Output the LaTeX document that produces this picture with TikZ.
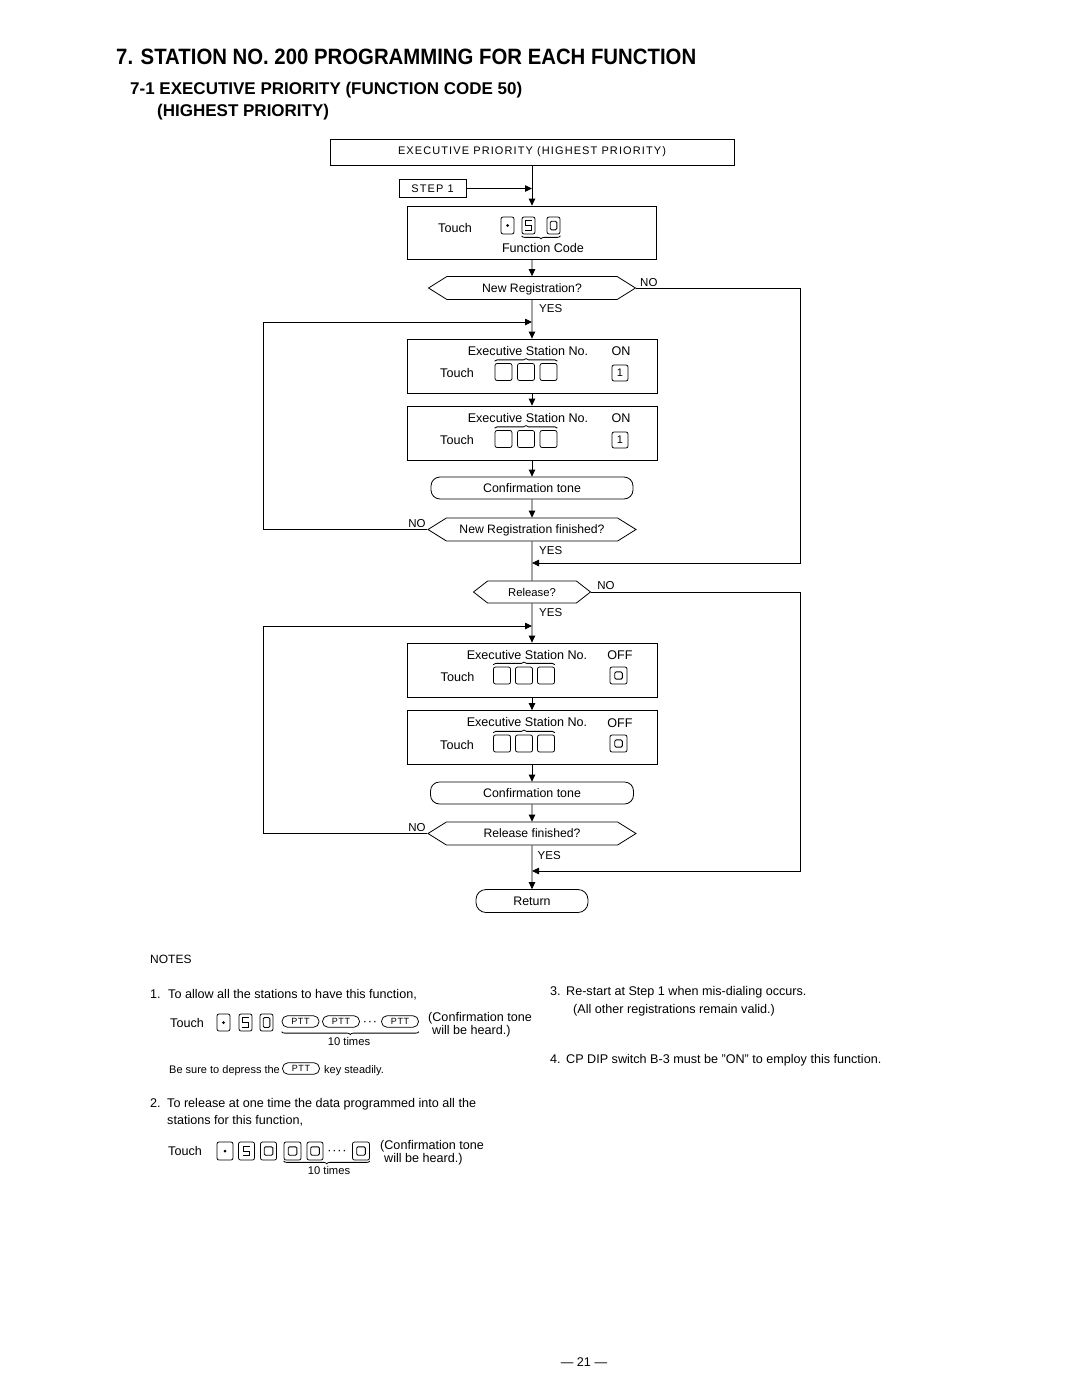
\documentclass[tikz,border=0pt]{standalone}
\usepackage{fontspec}
\usepackage{graphicx}
\setmainfont{Liberation Sans}
\usetikzlibrary{arrows.meta,shapes.symbols,decorations.pathreplacing}
\newcommand{\myfs}[1]{\fontsize{#1}{#1}\selectfont}
\begin{document}
\begin{tikzpicture}[x=1pt,y=-1pt,
  ln/.style={line width=0.8pt},
  arr/.style={ln,-{Triangle[length=7pt,width=6.5pt]}},
  flowbox/.style={draw,ln,rectangle,inner sep=0pt,minimum width=250pt,minimum height=54pt},
  term/.style={draw,ln,rounded corners=9pt,inner sep=0pt,minimum height=22pt,font=\myfs{12.4},text height=9pt,text depth=0pt},
  dec/.style={draw,ln,shape=signal,signal to=east and west,signal pointer angle=64,inner sep=0pt,minimum height=23pt,font=\myfs{12.2},text height=8.7pt,text depth=0pt},
  t/.style={inner sep=0pt,font=\myfs{12.6},text height=9pt,text depth=0pt},
  tl/.style={t,anchor=west},
  st/.style={inner sep=0pt,font=\myfs{11.2},text height=8pt,text depth=0pt},
  lab/.style={inner sep=0pt,font=\myfs{11.5},text height=8.3pt,text depth=0pt},
  key/.style={draw,line width=0.75pt,rounded corners=2pt,inner sep=0pt,minimum width=13pt,minimum height=17pt},
  skey/.style={key,minimum width=17pt,minimum height=17pt},
  dotk/.style={path picture={\fill (path picture bounding box.center) circle (1.5pt);}},
  fivek/.style={path picture={\draw[line width=0.9pt,sharp corners]
      ([shift={(3.2pt,4.8pt)}]path picture bounding box.center) -- ++(-6.4pt,0pt) -- ++(0pt,-4.8pt)
      -- ++(6.4pt,0pt) -- ++(0pt,-4.8pt) -- ++(-6.4pt,0pt);}},
  zk/.style 2 args={path picture={\draw[line width=0.9pt,rounded corners=1.3pt]
      ([shift={(-#1,-#2)}]path picture bounding box.center) rectangle ([shift={(#1,#2)}]path picture bounding box.center);}},
  onkey/.style={key,minimum width=16pt,minimum height=16pt,font=\myfs{11}},
  offkey/.style={key,minimum width=17pt,minimum height=17pt,zk={3.8pt}{3.6pt}},
  ptt/.style={draw,line width=0.75pt,rounded corners=5.5pt,minimum width=37pt,minimum height=11.5pt,inner sep=0pt,font=\myfs{9}\addfontfeature{LetterSpace=8}},
  br/.style={ln,decorate,decoration={brace,amplitude=2.5pt}},
  brm/.style={ln,decorate,decoration={brace,mirror,amplitude=3pt}}
]
\fill[white] (0,0) rectangle (1080,1397);
\useasboundingbox (0,0) rectangle (1080,1397);

% ---------- titles
\node[inner sep=0pt,anchor=west] (ttl) at (116,57) {\resizebox{580pt}{15.5pt}{\bfseries 7. STATION NO. 200 PROGRAMMING FOR EACH FUNCTION}};
\node[inner sep=0pt,anchor=base west] (sub1) at (130,95) {\myfs{17}\bfseries 7-1 EXECUTIVE PRIORITY (FUNCTION CODE 50)};
\node[inner sep=0pt,anchor=base west] (sub2) at (157,116) {\myfs{17}\bfseries (HIGHEST PRIORITY)};

% ---------- flow nodes
\node[draw,ln,minimum width=404pt,minimum height=26pt,inner sep=0pt,font=\myfs{11}\addfontfeature{LetterSpace=10}] (top) at (532,152) {EXECUTIVE PRIORITY (HIGHEST PRIORITY)};
\node[draw,ln,minimum width=67pt,minimum height=18pt,inner sep=0pt,font=\myfs{11}\addfontfeature{LetterSpace=10}] (step) at (432.5,188.5) {STEP 1};

\node[draw,ln,minimum width=249pt,minimum height=53pt,inner sep=0pt] (fc) at (532,232.5) {};
\node[t] (fct) at (455,228) {Touch};
\node[key,dotk] (fk1) at (507.5,225.5) {};
\node[key,fivek] (fk2) at (528.5,225.5) {};
\node[key,zk={3.3pt}{4.3pt}] (fk3) at (553.5,225.5) {};
\draw[brm] ([yshift=-1.5pt]fk2.south west) -- ([yshift=-1.5pt]fk3.south east);
\node[t] (fcl) at (543,248) {Function Code};

\node[dec,minimum width=207pt] (d1) at (532,288) {New Registration?};

% box 1
\node[flowbox] (b1) at (532,366) {};
\node[t] (b1e) at (528,350.5) {Executive Station No.};
\node[t] (b1s) at (621,351) {ON};
\node[t] (b1t) at (457,373) {Touch};
\node[skey] (b1k1) at (503.5,372) {};
\node[skey] (b1k2) at (526,372) {};
\node[skey] (b1k3) at (548.5,372) {};
\draw[br] ([yshift=2pt]b1k1.north west) -- ([yshift=2pt]b1k3.north east);
\node[onkey] (b1k) at (620,373) {1};

% box 2
\node[flowbox] (b2) at (532,433) {};
\node[t] (b2e) at (528,417.5) {Executive Station No.};
\node[t] (b2s) at (621,418) {ON};
\node[t] (b2t) at (457,440) {Touch};
\node[skey] (b2k1) at (503.5,439) {};
\node[skey] (b2k2) at (526,439) {};
\node[skey] (b2k3) at (548.5,439) {};
\draw[br] ([yshift=2pt]b2k1.north west) -- ([yshift=2pt]b2k3.north east);
\node[onkey] (b2k) at (620,440) {1};

\node[term,minimum width=202pt] (c1) at (532,488) {Confirmation tone};
\node[dec,minimum width=208pt] (d2) at (532,529.5) {New Registration finished?};
\node[dec,minimum width=117pt,minimum height=22pt,signal pointer angle=76,font=\myfs{11.3}] (d3) at (532,592) {Release?};

% box 3
\node[flowbox] (b3) at (532,670) {};
\node[t] (b3e) at (527,654.5) {Executive Station No.};
\node[t] (b3s) at (620,655) {OFF};
\node[t] (b3t) at (457.5,677) {Touch};
\node[skey] (b3k1) at (502,675.5) {};
\node[skey] (b3k2) at (524,675.5) {};
\node[skey] (b3k3) at (546,675.5) {};
\draw[br] ([yshift=2pt]b3k1.north west) -- ([yshift=2pt]b3k3.north east);
\node[offkey] (b3k) at (618.5,675.5) {};

% box 4
\node[flowbox] (b4) at (532,737.5) {};
\node[t] (b4e) at (527,722) {Executive Station No.};
\node[t] (b4s) at (620,722.5) {OFF};
\node[t] (b4t) at (457,744.5) {Touch};
\node[skey] (b4k1) at (502,743.5) {};
\node[skey] (b4k2) at (524,743.5) {};
\node[skey] (b4k3) at (546,743.5) {};
\draw[br] ([yshift=2pt]b4k1.north west) -- ([yshift=2pt]b4k3.north east);
\node[offkey] (b4k) at (618.5,743.5) {};

\node[term,minimum width=203pt] (c2) at (532,793) {Confirmation tone};
\node[dec,minimum width=208pt] (d4) at (532,833.5) {Release finished?};
\node[term,minimum width=112pt,minimum height=23pt,rounded corners=10pt] (ret) at (532,901) {Return};

% labels
\node[lab,anchor=west] (y1) at (539,308) {YES};
\node[lab,anchor=west] (no1) at (640,282) {NO};
\node[lab] (no2) at (417,523) {NO};
\node[lab,anchor=west] (y2) at (539,550) {YES};
\node[lab] (no3) at (606,585) {NO};
\node[lab,anchor=west] (y3) at (539,612.5) {YES};
\node[lab] (no4) at (417,827) {NO};
\node[lab,anchor=west] (y4) at (537.5,855) {YES};

% ---------- helper coordinates
\coordinate (rx) at (800,0);
\coordinate (lx) at (263,0);
\coordinate (j1) at (532,322);
\coordinate (m1) at (532,563);
\coordinate (j2) at (532,626);
\coordinate (m2) at (532,871);

% ---------- connectors
\draw[arr] (top) -- (fc);
\draw[arr] (step) -- (step -| top);
\draw[arr] (fc) -- (d1);
\draw[arr] (d1) -- (b1);
\draw[arr] (b1) -- (b2);
\draw[arr] (b2) -- (c1);
\draw[arr] (c1) -- (d2);
\draw[ln] (d2) -- (d3);
\draw[arr] (d3) -- (b3);
\draw[arr] (b3) -- (b4);
\draw[arr] (b4) -- (c2);
\draw[arr] (c2) -- (d4);
\draw[arr] (d4) -- (ret);
\draw[arr] (d1.east) -- (d1.east -| rx) |- (m1);
\draw[arr] (d3.east) -- (d3.east -| rx) |- (m2);
\draw[arr] (d2.west) -- (d2.west -| lx) |- (j1);
\draw[arr] (d4.west) -- (d4.west -| lx) |- (j2);

% ---------- notes
\node[inner sep=0pt,anchor=west,font=\myfs{12}] (notes) at (150,959) {NOTES};

\node[tl] (n1) at (150,994) {\makebox[18pt][l]{1.}To allow all the stations to have this function,};
\node[tl] (n1t) at (170,1023) {Touch};
\node[key,dotk] (n1a) at (223.5,1022.5) {};
\node[key,fivek] (n1b) at (245.5,1022.5) {};
\node[key,zk={3.3pt}{5pt}] (n1c) at (266.5,1022.5) {};
\node[ptt] (n1d) at (300.5,1021.5) {PTT};
\node[ptt] (n1e) at (341,1021.5) {PTT};
\node[t] (n1f) at (370,1020.5) {·\kern0.8pt·\kern0.8pt·};
\node[ptt] (n1g) at (400,1021.5) {PTT};
\draw[brm] ([yshift=-4pt]n1d.south west) -- ([yshift=-4pt]n1g.south east);
\node[st] (n1x) at (349,1041) {10 times};
\node[tl] (n1c1) at (428,1017) {(Confirmation tone};
\node[tl] (n1c2) at (432,1030) {will be heard.)};
\node[inner sep=0pt,anchor=west,font=\myfs{11},text height=8pt,text depth=0pt] (n1s) at (169,1069) {Be sure to depress the};
\node[ptt] (n1p) at (301,1068.5) {PTT};
\node[inner sep=0pt,anchor=west,font=\myfs{11},text height=8pt,text depth=0pt] (n1s2) at (324,1069) {key steadily.};

\node[tl] (n2) at (150,1103) {\makebox[17pt][l]{2.}To release at one time the data programmed into all the};
\node[tl] (n2b) at (167,1120) {stations for this function,};
\node[tl] (n2t) at (168,1151) {Touch};
\node[key,dotk,minimum width=16pt,minimum height=18pt] (n2a) at (225,1151) {};
\node[key,fivek,minimum width=16pt,minimum height=18pt] (n2b5) at (246.5,1151) {};
\node[key,zk={4.3pt}{4.2pt},minimum width=16pt,minimum height=18pt] (n2c) at (268.5,1151) {};
\node[key,zk={4.3pt}{4.2pt},minimum width=17pt,minimum height=18pt] (n2d) at (292.5,1151) {};
\node[key,zk={4.3pt}{4.2pt},minimum width=16pt,minimum height=18pt] (n2e) at (315,1151) {};
\node[t] (n2f) at (337,1149.5) {·\kern0.8pt·\kern0.8pt·\kern0.8pt·};
\node[key,zk={4.3pt}{4.2pt},minimum width=17pt,minimum height=18pt] (n2g) at (361,1151) {};
\draw[brm] ([yshift=-0.5pt]n2d.south west) -- ([yshift=-0.5pt]n2g.south east);
\node[st] (n2x) at (329,1170) {10 times};
\node[tl] (n2c1) at (380,1145) {(Confirmation tone};
\node[tl] (n2c2) at (384,1157.5) {will be heard.)};

\node[tl] (n3) at (550,991) {\makebox[16pt][l]{3.}Re-start at Step 1 when mis-dialing occurs.};
\node[tl] (n3b) at (573,1009) {(All other registrations remain valid.)};
\node[tl] (n4) at (550,1059) {\makebox[16pt][l]{4.}CP DIP switch B-3 must be "ON" to employ this function.};

\node[t] (pg) at (584,1362) {— 21 —};
\end{tikzpicture}
\end{document}
